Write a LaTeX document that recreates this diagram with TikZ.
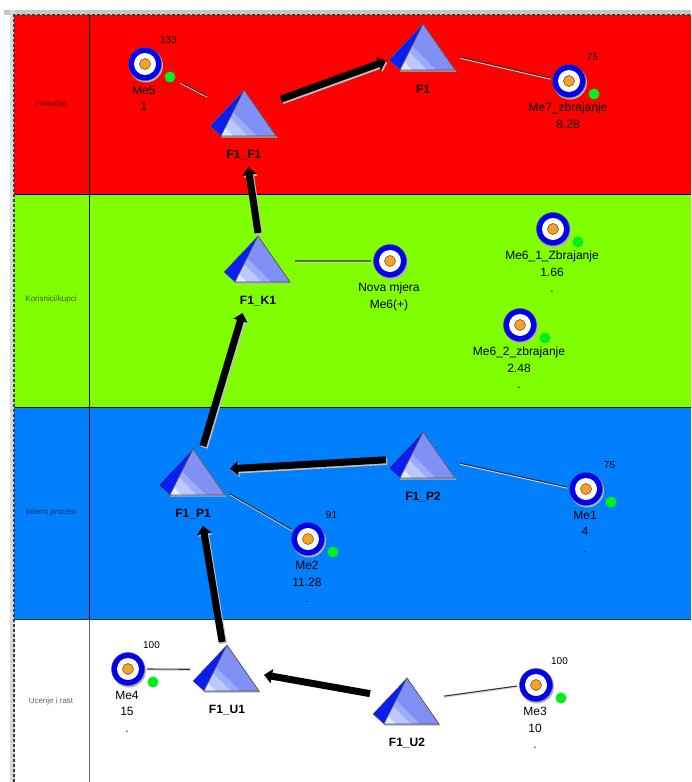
\documentclass[tikz,border=0pt]{standalone}
\usepackage{fontspec}
\setmainfont{Liberation Sans}
\usetikzlibrary{arrows.meta}

\definecolor{bandred}{RGB}{255,0,0}
\definecolor{bandgreen}{RGB}{128,255,0}
\definecolor{bandblue}{RGB}{0,128,255}
\definecolor{pyrback}{RGB}{10,30,240}
\definecolor{pyrface}{RGB}{128,144,244}
\definecolor{pyra}{RGB}{226,234,255}
\definecolor{pyrb}{RGB}{188,200,255}
\definecolor{pyrc}{RGB}{156,172,252}
\definecolor{measorange}{RGB}{248,160,32}
\definecolor{okgreen}{RGB}{0,240,30}

\tikzset{
  pyrbox/.style={minimum width=74pt,minimum height=80pt,inner sep=0pt,outer sep=0pt},
  pyrtext/.style={font=\bfseries\fontsize{12}{14}\selectfont,inner sep=0pt},
  measbox/.style={circle,minimum size=38pt,inner sep=0pt,outer sep=0pt},
  meastext/.style={font=\fontsize{12}{16.5}\selectfont,align=center,anchor=north,inner sep=0pt},
  measval/.style={font=\fontsize{10}{11}\selectfont,inner sep=0pt},
  bandtext/.style={font=\fontsize{8}{9}\selectfont,inner sep=0pt},
  goal/.style={line width=7pt,-{Triangle[length=8pt,width=14pt]}},
  goalshade/.style={goal,draw=black!25,fill=black!25},
  link/.style={line width=1.1pt,black!80},
  linkshade/.style={line width=1.1pt,white!85!black},
}

% pyramid: id, apex x, apex y, label
\newcommand{\pyramid}[4]{
\node[pyrbox] (#1) at (#2,#3+37) {};
\begin{scope}[shift={(#2,#3)}]
\fill[black!30](1,1)--(33.5,47.5)--(-23,47.5)--cycle;
\fill[pyrback](0,0)--(-34,36)--(-23,46)--cycle;
\begin{scope}
\clip(0,0)--(-23,46)--(32,46)--cycle;
\fill[pyrface](-40,-5)rectangle(40,50);
\foreach \c/\col in {-33/pyrc,-42/pyrb,-57/pyra}
  \fill[\col]({\c-10},-10)--({\c+60},60)--(-60,60)--(-60,-10)--cycle;
\end{scope}
\draw[black!70,line width=0.6pt](-23,46)--(0,0)--(32,46)--cycle;
\draw[black!60,line width=0.4pt](0,0)--(-34,36)--(-23,46);
\end{scope}
\node[pyrtext] (#1t) at (#2,#3+65) {#4};
}

% measure: id, x, y, texts
\newcommand{\measure}[4]{
\node[measbox] (#1) at (#2,#3) {};
\fill[black!30](#2+1,#3+1.5)circle[radius=17pt];
\filldraw[fill=blue!95!black,draw=black!70,line width=0.4pt](#2,#3)circle[radius=16.5pt];
\fill[white](#2,#3)circle[radius=11pt];
\filldraw[fill=measorange,draw=black!70,line width=0.5pt](#2,#3)circle[radius=5.5pt];
\node[meastext] (#1t) at (#2-1,#3+22) {#4};
}
\newcommand{\measvalue}[4]{\node[measval] (#1v) at (#2+23.5,#3-24) {#4};}
\newcommand{\measdot}[3]{\fill[okgreen](#2+25,#3+13)circle[radius=5.5pt];}

% thick arrow with its shade: from, to
\newcommand{\goalarrow}[2]{
\draw[goalshade]([shift={(1.3,1.6)}]#1)--([shift={(1.3,1.6)}]#2);
\draw[goal](#1)--(#2);
}
% thin link with its shade: from, to
\newcommand{\linkline}[3][0pt]{
\draw[linkshade,shorten <=#1]([shift={(0.3,1.1)}]#2)--([shift={(0.3,1.1)}]#3);
\draw[link,shorten <=#1](#2)--(#3);
}

\begin{document}
\begin{tikzpicture}[x=1pt,y=-1pt]
\useasboundingbox(0,0)rectangle(691,782);
\fill[white](0,0)rectangle(691,782);
% window edge
\fill[black!22](4,10)rectangle(691,15);
\fill[black!15](10,10)rectangle(15,782);
% bands
\fill[bandred](14,15)rectangle(691,194);
\fill[bandgreen](14,194)rectangle(691,407);
\fill[bandblue](14,407)rectangle(691,619);
\draw[black!75,line width=1.2pt,dash pattern=on 3pt off 2pt](14,782)--(14,15)--(691,15);
\draw[black,line width=0.8pt](15,194)--(691,194);
\draw[black,line width=0.8pt](15,407)--(691,407);
\draw[black!80,line width=0.8pt](15,619)--(691,619);
\draw[black,line width=0.8pt](89,15)--(89,619);
\draw[black!60,line width=0.8pt](89,619)--(89,782);
\node[bandtext,black!65!bandred] (fin) at (51,104) {Financije};
\node[bandtext,black!60!bandgreen] (kor) at (51,299) {Korisnici/kupci};
\node[bandtext,black!60!bandblue] (int) at (51,512) {Interni procesi};
\node[bandtext,black!60] (uce) at (51,701) {Ucenje i rast};

\pyramid{F1F1}{244}{90}{F1\_F1}
\pyramid{F1}{423}{24}{F1}
\pyramid{F1K1}{258}{236}{F1\_K1}
\pyramid{F1P1}{193}{449}{F1\_P1}
\pyramid{F1P2}{423}{432}{F1\_P2}
\pyramid{F1U1}{227}{645}{F1\_U1}
\pyramid{F1U2}{407}{678}{F1\_U2}

\measure{Me5}{145}{64}{Me5\\1\\.}
\measvalue{Me5}{145}{64}{133}
\measdot{Me5}{145}{64}
\measure{Me7}{569}{81}{Me7\_zbrajanje\\8.28\\.}
\measvalue{Me7}{569}{81}{75}
\measdot{Me7}{569}{81}
\measure{Nova}{390}{261}{Nova mjera\\Me6(+)}
\measure{Me61}{553}{229}{Me6\_1\_Zbrajanje\\1.66\\.}
\measdot{Me61}{553}{229}
\measure{Me62}{520}{325}{Me6\_2\_zbrajanje\\2.48\\.}
\measdot{Me62}{520}{325}
\measure{Me2}{308}{539}{Me2\\11.28\\.}
\measvalue{Me2}{308}{539}{91}
\measdot{Me2}{308}{539}
\measure{Me1}{586}{489}{Me1\\4\\.}
\measvalue{Me1}{586}{489}{75}
\measdot{Me1}{586}{489}
\measure{Me4}{128}{669}{Me4\\15\\.}
\measvalue{Me4}{128}{669}{100}
\measdot{Me4}{128}{669}
\measure{Me3}{536}{685}{Me3\\10\\.}
\measvalue{Me3}{536}{685}{100}
\measdot{Me3}{536}{685}

% thin links
\linkline[20pt]{Me5.333}{F1F1.140}
\linkline{F1.6}{Me7.171}
\linkline{F1K1.18}{Nova.180}
\linkline{F1P2.9}{Me1.174}
\linkline{F1P1.-12}{Me2.150}
\linkline{Me4.0}{F1U1.161}
\linkline{F1U2.27}{Me3.183}

% thick arrows
\goalarrow{F1K1.90}{F1F1.-84}
\goalarrow{F1F1.37}{F1.180}
\goalarrow{F1P1.76}{F1K1.249}
\goalarrow{F1P2.166}{F1P1.25}
\goalarrow{F1U1.97}{F1P1.-76}
\draw[goal](F1U2.150)--(F1U1.11);
\end{tikzpicture}
\end{document}
